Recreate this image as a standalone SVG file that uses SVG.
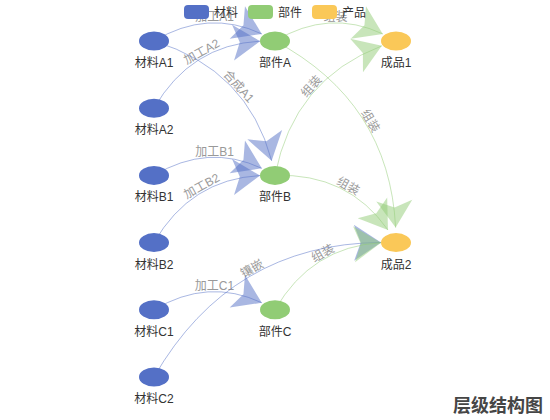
<svg xmlns="http://www.w3.org/2000/svg" width="550" height="420" viewBox="0 0 550 420">
<style>
text{font-family:"Liberation Sans","Noto Sans CJK SC",sans-serif;font-size:12px}
.nl{fill:#333;text-anchor:middle}
.el{fill:#999;text-anchor:middle}
.eb{fill:none;stroke:#5470c6;stroke-opacity:.5;stroke-width:1;marker-end:url(#ab)}
.eg{fill:none;stroke:#91cc75;stroke-opacity:.5;stroke-width:1;marker-end:url(#ag)}
.m{fill:#5470c6}.p{fill:#91cc75}.f{fill:#fac858}
</style>
<defs>
<marker id="ab" markerUnits="userSpaceOnUse" viewBox="-28 -19 29 38" refX="0" refY="0" markerWidth="29" markerHeight="38" orient="auto" overflow="visible">
<path d="M0,0 L-27,-18 L-20.25,0 L-27,18 Z" fill="#5470c6" fill-opacity="0.5"/>
</marker>
<marker id="ag" markerUnits="userSpaceOnUse" viewBox="-28 -19 29 38" refX="0" refY="0" markerWidth="29" markerHeight="38" orient="auto" overflow="visible">
<path d="M0,0 L-27,-18 L-20.25,0 L-27,18 Z" fill="#91cc75" fill-opacity="0.5"/>
</marker>
</defs>
<rect width="550" height="420" fill="#fff"/>
<g id="connectors">
<g id="edge-labels">
<text class="el" x="214.5" y="21.35">加工A1</text>
<text class="el" transform="translate(204.42,56.45) rotate(-29.05)" y="-1.5">加工A2</text>
<text class="el" transform="translate(234.66,90.05) rotate(47.99)" y="-1.5">合成A1</text>
<text class="el" x="214.5" y="155.75">加工B1</text>
<text class="el" transform="translate(204.42,190.85) rotate(-29.05)" y="-1.5">加工B2</text>
<text class="el" x="214.5" y="290.15">加工C1</text>
<text class="el" transform="translate(254.84,273.5) rotate(-29.05)" y="-1.5">镶嵌</text>
<text class="el" x="335.5" y="21.35">组装</text>
<text class="el" transform="translate(365.74,123.65) rotate(59.03)" y="-1.5">组装</text>
<text class="el" transform="translate(315.3,90.05) rotate(-47.99)" y="-1.5">组装</text>
<text class="el" transform="translate(345.6,190.85) rotate(29.05)" y="-1.5">组装</text>
<text class="el" transform="translate(325.42,258.05) rotate(-29.05)" y="-1.5">组装</text>
</g>
<path class="eb" d="M154,41 Q207.89,8.67 261.78,33.93"/>
<path class="eb" d="M154,108.2 Q190.5,44.95 260.01,41.14"/>
<path class="eb" d="M154,41 Q247.52,69.66 271.65,160.78"/>
<path class="eb" d="M154,175.4 Q207.89,143.07 261.78,168.33"/>
<path class="eb" d="M154,242.6 Q190.5,179.35 260.01,175.54"/>
<path class="eb" d="M154,309.8 Q207.89,277.47 261.78,302.73"/>
<path class="eb" d="M154,377 Q230.89,243.77 381.01,242.41"/>
<path class="eg" d="M275,41 Q328.89,8.67 382.78,33.93"/>
<path class="eg" d="M275,41 Q389.26,101.93 395.63,227.6"/>
<path class="eg" d="M275,175.4 Q293.72,79.41 381.81,45.86"/>
<path class="eg" d="M275,175.4 Q347.98,172.96 387.95,229.95"/>
<path class="eg" d="M275,309.8 Q311.5,246.55 381.01,242.74"/>
</g>
<g id="n-A1"><ellipse class="m" cx="154" cy="41" rx="15" ry="9.5"/><text class="nl" x="154" y="67">材料A1</text></g>
<g id="n-A2"><ellipse class="m" cx="154" cy="108.2" rx="15" ry="9.5"/><text class="nl" x="154" y="134.2">材料A2</text></g>
<g id="n-B1"><ellipse class="m" cx="154" cy="175.4" rx="15" ry="9.5"/><text class="nl" x="154" y="201.4">材料B1</text></g>
<g id="n-B2"><ellipse class="m" cx="154" cy="242.6" rx="15" ry="9.5"/><text class="nl" x="154" y="268.6">材料B2</text></g>
<g id="n-C1"><ellipse class="m" cx="154" cy="309.8" rx="15" ry="9.5"/><text class="nl" x="154" y="335.8">材料C1</text></g>
<g id="n-C2"><ellipse class="m" cx="154" cy="377" rx="15" ry="9.5"/><text class="nl" x="154" y="403">材料C2</text></g>
<g id="n-PA"><ellipse class="p" cx="275" cy="41" rx="15" ry="9.5"/><text class="nl" x="275" y="67">部件A</text></g>
<g id="n-PB"><ellipse class="p" cx="275" cy="175.4" rx="15" ry="9.5"/><text class="nl" x="275" y="201.4">部件B</text></g>
<g id="n-PC"><ellipse class="p" cx="275" cy="309.8" rx="15" ry="9.5"/><text class="nl" x="275" y="335.8">部件C</text></g>
<g id="n-F1"><ellipse class="f" cx="396" cy="41" rx="15" ry="9.5"/><text class="nl" x="396" y="67">成品1</text></g>
<g id="n-F2"><ellipse class="f" cx="396" cy="242.6" rx="15" ry="9.5"/><text class="nl" x="396" y="268.6">成品2</text></g>
<g id="legend">
<rect class="m" x="184" y="5" width="25" height="14" rx="4"/><text x="214" y="16.5" fill="#333">材料</text>
<rect class="p" x="248" y="5" width="25" height="14" rx="4"/><text x="278" y="16.5" fill="#333">部件</text>
<rect class="f" x="312" y="5" width="25" height="14" rx="4"/><text x="342" y="16.5" fill="#333">产品</text>
</g>
<text id="title" x="543" y="412" text-anchor="end" style="font-size:18px;font-weight:bold;fill:#464646">层级结构图</text>
</svg>
